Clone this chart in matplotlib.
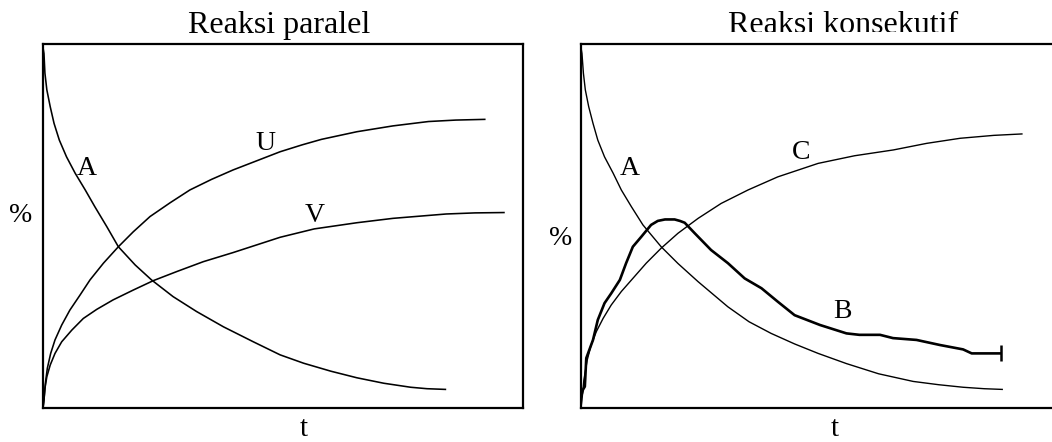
import matplotlib
matplotlib.use("Agg")
import matplotlib.pyplot as plt
from matplotlib.transforms import Bbox

plt.rcParams['font.family'] = ['Liberation Serif', 'DejaVu Serif']

titles = ["Reaksi paralel", "Reaksi konsekutif"]

# ---- Left panel: parallel reactions (A -> U, A -> V) ----
pA_t = [0.0, 0.02, 0.04, 0.08, 0.15, 0.23, 0.34, 0.49, 0.67, 0.88, 1.08, 1.33, 1.57, 1.92,
        2.26, 2.71, 3.20, 3.76, 4.38, 4.94, 5.43, 6.00, 6.54, 7.10, 7.66, 8.00, 8.40]
pA_y = [99.0, 97.4, 92.0, 87.4, 82.8, 78.2, 73.6, 69.0, 64.5, 59.9, 55.3, 49.8, 44.3, 39.3,
        35.2, 30.6, 26.5, 22.3, 18.2, 14.6, 12.3, 10.1, 8.3, 6.8, 5.7, 5.3, 5.1]

pU_t = [0.0, 0.02, 0.05, 0.09, 0.16, 0.25, 0.39, 0.56, 0.77, 0.98, 1.26, 1.57, 1.88, 2.23,
        2.65, 3.06, 3.51, 3.96, 4.45, 4.94, 5.40, 5.80, 6.54, 7.29, 8.03, 8.60, 9.22]
pU_y = [0.0, 2.2, 6.8, 10.9, 15.0, 18.7, 22.8, 26.9, 31.0, 35.2, 39.8, 44.3, 48.4, 52.6,
        56.4, 59.9, 62.8, 65.4, 67.9, 70.4, 72.3, 73.8, 75.9, 77.5, 78.7, 79.1, 79.3]

pV_t = [0.0, 0.02, 0.04, 0.08, 0.15, 0.25, 0.39, 0.60, 0.84, 1.12, 1.46, 1.88, 2.30, 2.79,
        3.34, 3.96, 4.45, 4.94, 5.65, 6.54, 7.29, 8.40, 9.00, 9.62]
pV_y = [0.0, 2.2, 5.4, 8.6, 11.8, 15.0, 18.2, 21.4, 24.6, 27.1, 29.7, 32.4, 35.0, 37.5,
        40.2, 42.7, 44.8, 46.9, 49.2, 50.9, 52.1, 53.3, 53.6, 53.7]

# ---- Right panel: consecutive reactions (A -> B -> C) ----
cA_t = [0.0, 0.02, 0.05, 0.09, 0.16, 0.25, 0.35, 0.49, 0.67, 0.84, 1.05, 1.29, 1.67, 2.02,
        2.44, 3.06, 3.50, 3.96, 4.45, 4.94, 5.53, 6.20, 6.92, 7.45, 7.96, 8.40, 8.79]
cA_y = [99.0, 97.4, 92.0, 87.4, 82.8, 78.2, 73.6, 69.0, 64.5, 59.9, 55.3, 50.3, 44.3, 39.7,
        34.7, 27.8, 23.7, 20.5, 17.6, 15.0, 12.2, 9.4, 7.3, 6.4, 5.7, 5.3, 5.1]

cC_t = [0.0, 0.02, 0.06, 0.13, 0.21, 0.32, 0.46, 0.63, 0.84, 1.08, 1.36, 1.67, 2.02, 2.44,
        2.92, 3.48, 4.10, 4.94, 5.70, 6.51, 7.20, 7.90, 8.60, 9.20]
cC_y = [0.0, 2.2, 7.7, 13.2, 17.3, 21.0, 24.6, 28.3, 32.0, 35.6, 39.8, 43.9, 48.0, 52.1,
        56.2, 59.9, 63.5, 67.2, 69.3, 70.9, 72.7, 74.1, 74.9, 75.3]

cB_t = [0.0, 0.04, 0.08, 0.11, 0.25, 0.35, 0.49, 0.63, 0.81, 0.94, 1.08, 1.26, 1.46, 1.60,
        1.75, 1.95, 2.06, 2.16, 2.37, 2.71, 3.06, 3.41, 3.76, 4.10, 4.45, 4.98, 5.53, 5.80,
        6.23, 6.50, 6.99, 7.48, 7.96, 8.14, 8.76]
cB_y = [3.0, 5.0, 5.9, 13.7, 18.7, 24.2, 28.8, 31.5, 35.2, 39.8, 44.3, 47.1, 50.3, 51.4,
        51.8, 51.8, 51.4, 50.9, 48.0, 43.4, 39.8, 35.6, 32.9, 29.2, 25.5, 22.8, 20.5, 20.1,
        20.1, 19.2, 18.7, 17.3, 16.1, 15.0, 15.0]

left_labels = [("A", 0.91, 65.9), ("U", 4.63, 72.8), ("V", 5.65, 53.0)]
right_labels = [("A", 1.01, 65.8), ("C", 4.58, 70.1), ("B", 5.44, 26.5)]

W, H = 1052, 442
fig = plt.figure(figsize=(W / 100, H / 100), dpi=100)

ax1 = fig.add_axes([43 / W, 1 - 408 / H, 480 / W, 364 / H])
ax2 = fig.add_axes([581 / W, 1 - 408 / H, 480 / W, 364 / H])

lw = 1.15
for tt, yy in ((pA_t, pA_y), (pU_t, pU_y), (pV_t, pV_y)):
    ax1.plot(tt, yy, color='black', lw=lw, solid_capstyle='butt')

ax2.plot(cA_t, cA_y, color='black', lw=1.0, solid_capstyle='butt')
ax2.plot(cC_t, cC_y, color='black', lw=1.0, solid_capstyle='butt')
ax2.plot(cB_t, cB_y, color='black', lw=1.9, solid_capstyle='butt')
ax2.plot(cB_t[-1:], cB_y[-1:], color='black', marker='|', ms=12, mew=1.8)

for ax in (ax1, ax2):
    ax.set_xlim(0, 10)
    ax.set_ylim(0, 100)
    ax.set_xticks([])
    ax.set_yticks([])
    for s in ax.spines.values():
        s.set_linewidth(1.6)
        s.set_color('black')

for txt, x, y in left_labels:
    ax1.text(x, y, txt, fontsize=20, ha='center', va='center')
for txt, x, y in right_labels:
    ax2.text(x, y, txt, fontsize=20, ha='center', va='center')

fig.text(279 / W, 1 - 33 / H, titles[0], fontsize=23, ha='center', va='baseline')
t2 = fig.text(843 / W, 1 - 33 / H, titles[1], fontsize=23, ha='center', va='baseline')
t2.set_clip_box(Bbox([[0, H - 31.5], [W, H]]))
t2.set_clip_on(True)

fig.text(21 / W, 1 - 215 / H, "%", fontsize=20, ha='center', va='center')
fig.text(561 / W, 1 - 239 / H, "%", fontsize=20, ha='center', va='center')
fig.text(304 / W, 1 - 436 / H, "t", fontsize=21, ha='center', va='baseline')
fig.text(835 / W, 1 - 436 / H, "t", fontsize=21, ha='center', va='baseline')

fig.savefig("out.png", dpi=100)
